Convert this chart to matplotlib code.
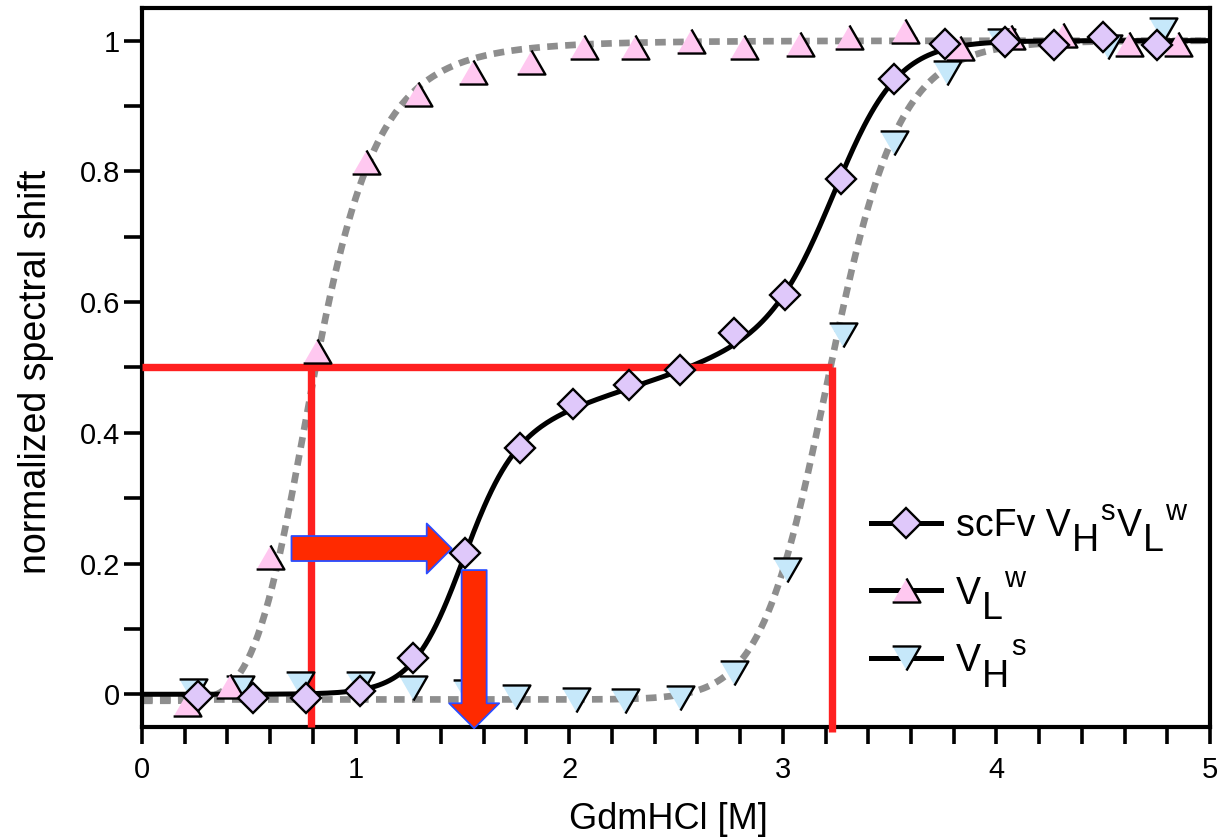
import numpy as np
import matplotlib
matplotlib.use('Agg')
import matplotlib.pyplot as plt
from matplotlib.patches import FancyArrowPatch, ArrowStyle
from matplotlib.lines import Line2D

plt.rcParams['font.family'] = ['Liberation Sans', 'DejaVu Sans']

# datos
conc_scfv = [0.26, 0.52, 0.77, 1.02, 1.27, 1.51, 1.77, 2.02, 2.28, 2.52, 2.77, 3.01, 3.27, 3.52, 3.76, 4.04, 4.27, 4.50, 4.75]
shift_scfv = [-0.003, -0.005, -0.005, 0.005, 0.055, 0.216, 0.377, 0.444, 0.473, 0.496, 0.553, 0.611, 0.788, 0.941, 0.995, 0.998, 0.994, 1.005, 0.994]

conc_vl = [0.21, 0.41, 0.60, 0.82, 1.05, 1.29, 1.55, 1.82, 2.07, 2.31, 2.57, 2.82, 3.08, 3.31, 3.57, 3.83, 4.07, 4.31, 4.62, 4.85]
shift_vl = [-0.015, 0.012, 0.21, 0.525, 0.815, 0.918, 0.952, 0.968, 0.99, 0.991, 1.0, 0.991, 0.995, 1.006, 1.014, 0.988, 1.005, 1.009, 0.995, 0.995]

conc_vh = [0.24, 0.46, 0.74, 1.02, 1.27, 1.52, 1.75, 2.03, 2.26, 2.52, 2.77, 3.02, 3.28, 3.52, 3.77, 4.02, 4.52, 4.78]
shift_vh = [0.005, 0.01, 0.015, 0.015, 0.01, 0.003, -0.004, -0.008, -0.01, -0.005, 0.032, 0.19, 0.549, 0.843, 0.951, 1.0, 0.99, 1.017]

# parametros de los ajustes
vl_mid, vl_n, vl_base = 0.81, 5.5, -0.01
vh_mid, vh_n, vh_base = 3.22, 20, -0.008
scfv_c1, scfv_s1, scfv_c2, scfv_s2 = 1.49, 0.12, 3.26, 0.15
scfv_yi0, scfv_yi_slope = 0.24, 0.10

# lineas de referencia (Cm)
half = 0.5
cm_vl = 0.79
cm_vh = 3.23

xtick_vals = [0, 1, 2, 3, 4, 5]
xtick_labels = ['0', '1', '2', '3', '4', '5']
ytick_vals = [0, 0.2, 0.4, 0.6, 0.8, 1.0]
ytick_labels = ['0', '0.2', '0.4', '0.6', '0.8', '1']


def hill(x, mid, n, base):
    return base + (1 - base) * x**n / (mid**n + x**n)


def three_state(x):
    k1 = np.exp((x - scfv_c1) / scfv_s1)
    k2 = np.exp((x - scfv_c2) / scfv_s2)
    yi = scfv_yi0 + scfv_yi_slope * x
    d = 1 + k1 + k1 * k2
    return (k1 * yi + k1 * k2) / d


x_fit = np.linspace(0, 5, 600)

fig = plt.figure(figsize=(12.25, 8.38), dpi=100)
ax = fig.add_axes([0.1159, 0.1325, 0.8719, 0.858])

gray = '#8e8e8e'
ax.plot(x_fit, hill(x_fit, vl_mid, vl_n, vl_base), color=gray, lw=4.8, dashes=(1.6, 1.1), zorder=2)
ax.plot(x_fit, hill(x_fit, vh_mid, vh_n, vh_base), color=gray, lw=4.8, dashes=(1.6, 1.1), zorder=2)
ax.plot(x_fit, three_state(x_fit), color='black', lw=3.6, zorder=3)

# lineas rojas
red = '#ff2020'
ax.plot([0, cm_vh], [half, half], color=red, lw=5.3, zorder=3.5, solid_capstyle='butt')
ax.plot([cm_vl, cm_vl], [half, -0.05], color=red, lw=5.3, zorder=3.5, solid_capstyle='butt', clip_on=False)
ax.plot([cm_vh, cm_vh], [half, -0.058], color=red, lw=5.3, zorder=3.5, solid_capstyle='butt', clip_on=False)

tri_up = [(-1, -0.866), (1, -0.866), (0, 0.866)]
tri_down = [(-1, 0.866), (1, 0.866), (0, -0.866)]

c_scfv = '#dfc8fa'
c_vl = '#ffc8f0'
c_vh = '#c6e8fa'

ax.plot(conc_vh, shift_vh, ls='none', marker=tri_down, ms=20, mfc=c_vh, mec='black', mew=1.7, zorder=4)
ax.plot(conc_vl, shift_vl, ls='none', marker=tri_up, ms=20, mfc=c_vl, mec='black', mew=1.7, zorder=4.1)
ax.plot(conc_scfv, shift_scfv, ls='none', marker='D', ms=15.5, mfc=c_scfv, mec='black', mew=1.7, zorder=4.2)

# flechas
arrow_style = ArrowStyle.Simple(head_length=18, head_width=36, tail_width=18)
arr_h = FancyArrowPatch((0.70, 0.223), (1.45, 0.223), arrowstyle=arrow_style, mutation_scale=1,
                        fc='#ff2a00', ec='#2a4cff', lw=1.3, shrinkA=0, shrinkB=0, zorder=5)
arr_v = FancyArrowPatch((1.555, 0.19), (1.555, -0.052), arrowstyle=arrow_style, mutation_scale=1,
                        fc='#ff2a00', ec='#2a4cff', lw=1.3, shrinkA=0, shrinkB=0, zorder=5, clip_on=False)
ax.add_patch(arr_h)
ax.add_patch(arr_v)

ax.set_xlim(0, 5)
ax.set_ylim(-0.05, 1.05)
ax.set_xticks(xtick_vals)
ax.set_xticklabels(xtick_labels)
ax.set_xticks(np.arange(0, 5.01, 0.2), minor=True)
ax.set_yticks(ytick_vals)
ax.set_yticklabels(ytick_labels)
ax.set_yticks(np.arange(0, 1.01, 0.1), minor=True)
ax.tick_params(which='both', direction='out', length=12, width=2.6, labelsize=21)
ax.tick_params(axis='x', which='both', pad=9)
ax.tick_params(axis='y', which='both', pad=3, length=13)
for sp in ax.spines.values():
    sp.set_linewidth(3)

ax.set_xlabel('GdmHCl [M]', fontsize=26)
ax.set_ylabel('normalized spectral shift', fontsize=27)
ax.xaxis.set_label_coords(0.4925, -0.104)
ax.yaxis.set_label_coords(-0.082, 0.494)

# leyenda
handles = [
    Line2D([], [], color='black', lw=3.6, marker='D', ms=15.5, mfc=c_scfv, mec='black', mew=1.7),
    Line2D([], [], color='black', lw=3.6, marker=tri_up, ms=20, mfc=c_vl, mec='black', mew=1.7),
    Line2D([], [], color='black', lw=3.6, marker=tri_down, ms=20, mfc=c_vh, mec='black', mew=1.7),
]
leg = ax.legend(handles, ['scFv V', 'V', 'V'], loc='upper left', bbox_to_anchor=(0.683, 0.305),
                frameon=False, fontsize=27, handlelength=1.85, handletextpad=0.4,
                labelspacing=0.85, borderpad=0, borderaxespad=0)
leg.set_zorder(5)

fs = 27
fs_sup = 21
sub_dy = -11
sup_dy = 13


def chain_label(start, parts):
    # subindices y superindices como textos encadenados
    prev = start
    prev_dy = 0
    for s, dy, size in parts:
        prev = ax.annotate(s, xy=(1, 0), xycoords=prev, xytext=(1, dy - prev_dy),
                           textcoords='offset points', fontsize=size, va='bottom', ha='left',
                           annotation_clip=False, zorder=6)
        prev_dy = dy


texts = leg.get_texts()
chain_label(texts[0], [('H', sub_dy, fs), ('s', sup_dy, fs_sup), ('V', 0, fs),
                       ('L', sub_dy, fs), ('w', sup_dy, fs_sup)])
chain_label(texts[1], [('L', sub_dy, fs), ('w', sup_dy, fs_sup)])
chain_label(texts[2], [('H', sub_dy, fs), ('s', sup_dy, fs_sup)])

fig.savefig('out.png', dpi=100)
